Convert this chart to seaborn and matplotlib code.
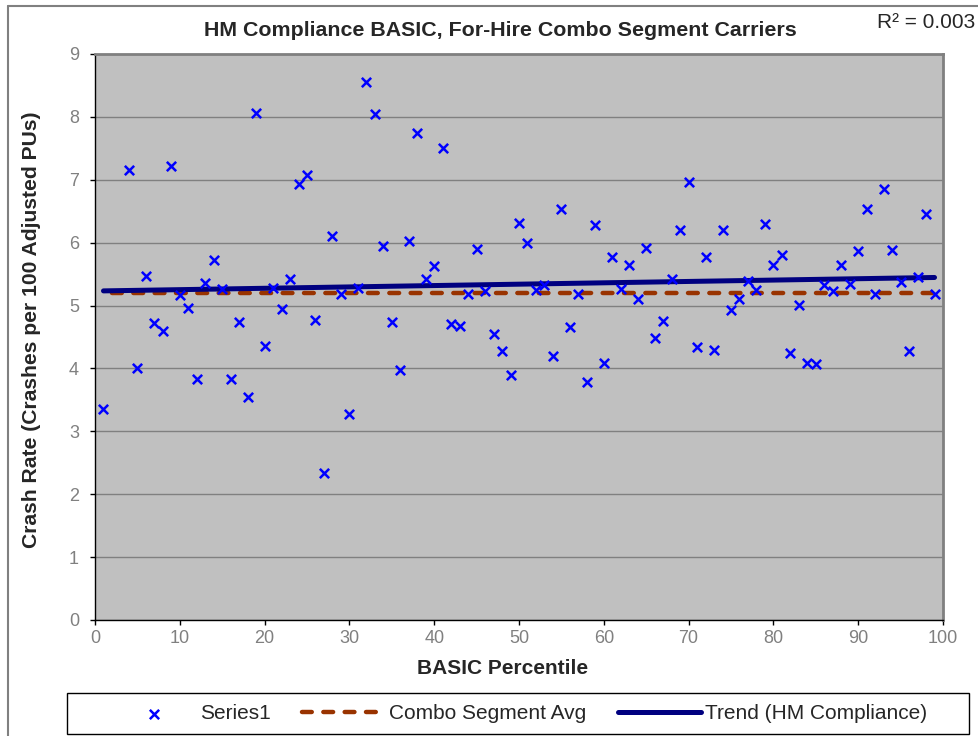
import numpy as np
import pandas as pd
import seaborn as sns
import matplotlib.pyplot as plt
from matplotlib.lines import Line2D
from matplotlib.patches import Rectangle

# data
percentile = [1] + list(range(4, 100))
crash_rate = [3.35,
              7.15, 4.01, 5.47, 4.73, 4.59, 7.22, 5.17, 4.96, 3.84, 5.36,
              5.72, 5.26, 3.83, 4.74, 3.54, 8.06, 4.36, 5.28, 4.95, 5.42,
              6.93, 7.07, 4.77, 2.33, 6.10, 5.18, 3.27, 5.28, 8.56, 8.04,
              5.94, 4.74, 3.98, 6.03, 7.75, 5.43, 5.63, 7.51, 4.70, 4.68,
              5.19, 5.90, 5.23, 4.55, 4.28, 3.89, 6.32, 5.99, 5.24, 5.33,
              4.20, 6.53, 4.66, 5.19, 3.79, 6.28, 4.08, 5.77, 5.26, 5.65,
              5.10, 5.92, 4.48, 4.75, 5.42, 6.20, 6.96, 4.34, 5.77, 4.30,
              6.20, 4.93, 5.10, 5.39, 5.24, 6.29, 5.65, 5.80, 4.24, 5.01,
              4.09, 4.07, 5.33, 5.23, 5.65, 5.34, 5.87, 6.53, 5.19, 6.86,
              5.89, 5.38, 4.28, 5.46, 6.46, 5.19]
avg_x = [2, 99]
avg_y = [5.2, 5.2]
r2_label = "R² = 0.003"

df = pd.DataFrame({"pct": percentile, "rate": crash_rate})

# linear trend through the points
slope, intercept = np.polyfit(df["pct"], df["rate"], 1)
trend = pd.DataFrame({"pct": [min(percentile), max(percentile)]})
trend["rate"] = intercept + slope * trend["pct"]
avg = pd.DataFrame({"pct": avg_x, "rate": avg_y})

sns.set_style("white")
plt.rcParams['font.family'] = ['Liberation Sans', 'DejaVu Sans']

W, H = 979, 736
fig = plt.figure(figsize=(W / 100, H / 100), dpi=100)
ax = fig.add_axes([95 / W, 1 - 620 / H, 848 / W, 566 / H])
ax.set_facecolor("#C0C0C0")

sns.scatterplot(data=df, x="pct", y="rate", marker="x", color="#0000FF",
                s=45, linewidth=1.8, ax=ax, zorder=4, label="Series1")
sns.lineplot(data=avg, x="pct", y="rate", color="#993300", linewidth=3.2,
             ax=ax, zorder=3, label="Combo Segment Avg")
avg_line = ax.lines[-1]
avg_line.set_dashes((2.2, 2.6))
avg_line.set_dash_capstyle("round")
sns.lineplot(data=trend, x="pct", y="rate", color="#000080", linewidth=3.6,
             ax=ax, zorder=3, label="Trend (HM Compliance)")

ax.set_xlim(0, 100)
ax.set_ylim(0, 9)
ax.set_xticks(range(0, 101, 10))
ax.set_yticks(range(0, 10))
ax.grid(axis="y", color="#808080", linewidth=1)
ax.set_axisbelow(True)
ax.tick_params(direction="out", length=3.6, width=1, color="black",
               labelcolor="#808080", labelsize=13, bottom=True, left=True)
ax.tick_params(axis="y", pad=8)
for side in ["left", "bottom"]:
    ax.spines[side].set_color("black")
    ax.spines[side].set_linewidth(1)
for side in ["top", "right"]:
    ax.spines[side].set_color("#808080")
    ax.spines[side].set_linewidth(2)

ax.set_xlabel("BASIC Percentile", fontsize=15, fontweight="bold")
ax.set_ylabel("Crash Rate (Crashes per 100 Adjusted PUs)", fontsize=15.2,
              fontweight="bold")
ax.xaxis.set_label_coords((503 - 95) / 848, (620 - 659) / 566)
ax.yaxis.set_label_coords((41 - 95) / 848, (620 - 330) / 566)

fig.text(500 / W, 1 - 31 / H, "HM Compliance BASIC, For-Hire Combo Segment Carriers",
         ha="center", va="center", fontsize=15.4, fontweight="bold")
fig.text(975 / W, 1 - 22 / H, r2_label, ha="right", va="center", fontsize=15)

# outer chart border (cut off on right and bottom)
fig.add_artist(Line2D([8.5 / W, 8.5 / W], [0, 1 - 6 / H],
                      transform=fig.transFigure, color="#808080", linewidth=1.5))
fig.add_artist(Line2D([8.5 / W, 1], [1 - 6 / H, 1 - 6 / H],
                      transform=fig.transFigure, color="#808080", linewidth=1.5))

# legend box
fig.add_artist(Rectangle((67 / W, 1 - 734 / H), 902 / W, 41 / H,
                         transform=fig.transFigure, facecolor="white",
                         edgecolor="black", linewidth=1))

handles, labels = ax.get_legend_handles_labels()
ax.get_legend().remove()
leg = fig.legend(handles, labels, loc="center", ncol=3,
                 bbox_to_anchor=(520 / W, 1 - 713.5 / H),
                 fontsize=15, frameon=False, handlelength=4,
                 handletextpad=0.2, columnspacing=1.5, borderaxespad=0)

plt.savefig("out.png", dpi=100)
plt.close()
